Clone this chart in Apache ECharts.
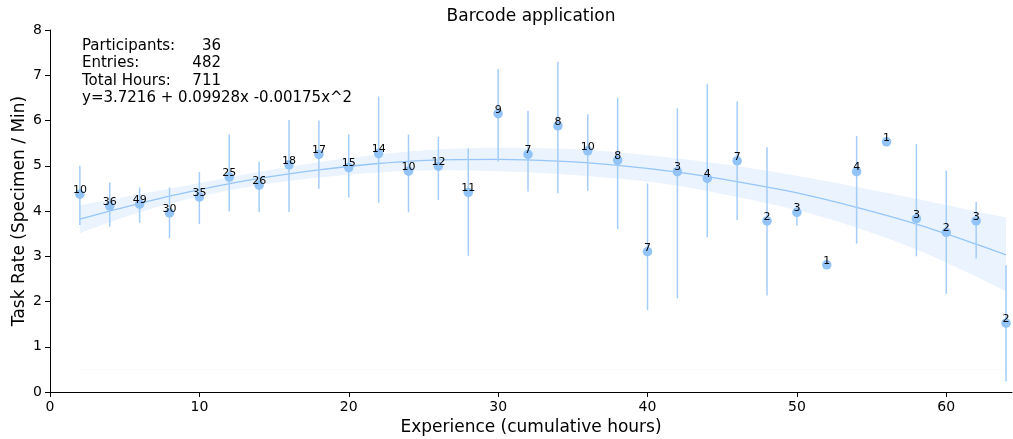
<!DOCTYPE html>
<html><head><meta charset="utf-8">
<script src="https://cdn.jsdelivr.net/npm/echarts@6/dist/echarts.min.js"></script>
<style>html,body{margin:0;padding:0;background:#fff}#c{width:1013px;height:439px}</style>
</head><body><div id="c"></div>
<script>
// ---- data ----
const hours = [2,4,6,8,10,12,14,16,18,20,22,24,26,28,30,32,34,36,38,40,42,44,46,48,50,52,54,56,58,60,62,64];
const meanRate = [4.37,4.11,4.15,3.96,4.31,4.75,4.57,5.02,5.25,4.96,5.27,4.88,4.99,4.41,6.15,5.25,5.88,5.33,5.12,3.10,4.87,4.72,5.11,3.78,3.97,2.81,4.87,5.53,3.83,3.53,3.78,1.52];
const counts = [10,36,49,30,35,25,26,18,17,15,14,10,12,11,9,7,8,10,8,7,3,4,7,2,3,1,4,1,3,2,3,2];
const errLow = [3.69,3.65,3.74,3.40,3.71,3.99,3.97,3.98,4.49,4.30,4.18,3.97,4.24,3.01,5.09,4.43,4.39,4.45,3.60,1.81,2.07,3.42,3.80,2.13,3.68,null,3.28,null,3.00,2.17,2.95,0.23];
const errHigh = [5.00,4.63,4.52,4.52,4.86,5.69,5.09,6.01,6.00,5.69,6.53,5.69,5.64,5.38,7.14,6.21,7.30,6.14,6.50,4.61,6.27,6.81,6.42,5.41,4.13,null,5.66,null,5.48,4.89,4.20,2.80];
const fitX = [2,6,10,14,18,22,26,30,34,38,42,46,50,54,58,62,64];
const fitY = [3.82,4.17,4.47,4.72,4.91,5.05,5.13,5.14,5.10,5.01,4.86,4.65,4.40,4.08,3.71,3.27,3.03];
const fitLo = [3.51,3.97,4.32,4.57,4.74,4.85,4.90,4.88,4.82,4.72,4.56,4.31,4.02,3.63,3.15,2.55,2.22];
const fitHi = [4.13,4.37,4.62,4.87,5.08,5.25,5.36,5.40,5.38,5.30,5.16,4.99,4.78,4.53,4.27,3.99,3.86];
const xTicks = [0,10,20,30,40,50,60];
const yTicks = [0,1,2,3,4,5,6,7,8];
const titleText = 'Barcode application';
const xName = 'Experience (cumulative hours)';
const yName = 'Task Rate (Specimen / Min)';
const statLabels = ['Participants:', 'Entries:', 'Total Hours:'];
const statValues = ['36', '482', '711'];
const equationText = 'y=3.7216 + 0.09928x -0.00175x^2';

// ---- build ----
const FONT = '"DejaVu Sans", sans-serif';
const chart = echarts.init(document.getElementById('c'), null, {renderer: 'canvas'});
const bandUpper = fitX.map((x, i) => [x, fitHi[i]]);
const bandLower = fitX.map((x, i) => [x, fitLo[i]]);
const fitLine = fitX.map((x, i) => [x, fitY[i]]);
const bars = [];
hours.forEach((x, i) => { if (errLow[i] != null) bars.push([x, errLow[i], errHigh[i]]); });
const pts = hours.map((x, i) => [x, meanRate[i], counts[i]]);

function txt(t, x, y, size, align, rot) {
  return {type: 'text', x: x, y: y, z: 100, rotation: rot || 0,
    style: {text: t, fill: '#000', font: size + 'px ' + FONT, align: align, verticalAlign: 'middle', textAlign: align, textVerticalAlign: 'middle'}};
}
const graphic = [txt(titleText, 531, 17, 17, 'center'), txt(yName, 20, 211, 17, 'center', Math.PI / 2)];
const lineY = [46, 63.5, 81];
statLabels.forEach((t, i) => {
  graphic.push(txt(t, 82, lineY[i], 15, 'left'));
  graphic.push(txt(statValues[i], 221, lineY[i], 15, 'right'));
});
graphic.push(txt(equationText, 82, 98.5, 15, 'left'));

const option = {
  animation: false,
  grid: {left: 50, right: 1, top: 30, bottom: 47, containLabel: false, outerBoundsMode: 'none'},
  xAxis: {
    type: 'value', min: 0, max: 64.4, interval: 10,
    axisLine: {show: true, lineStyle: {color: '#000', width: 1}},
    axisTick: {show: true, customValues: xTicks, length: 5, lineStyle: {color: '#000', width: 1}},
    axisLabel: {customValues: xTicks, color: '#000', fontSize: 14, fontFamily: FONT, margin: 8},
    splitLine: {show: false},
    name: xName, nameLocation: 'middle', nameGap: 26,
    nameTextStyle: {color: '#000', fontSize: 17, fontFamily: FONT}
  },
  yAxis: {
    type: 'value', min: 0, max: 8, interval: 1,
    axisLine: {show: true, lineStyle: {color: '#000', width: 1}},
    axisTick: {show: true, customValues: yTicks, length: 5, lineStyle: {color: '#000', width: 1}},
    axisLabel: {customValues: yTicks, color: '#000', fontSize: 14, fontFamily: FONT, margin: 8},
    splitLine: {show: false}
  },
  series: [
    {type: 'line', data: bandUpper, symbol: 'none', smooth: 0.35, lineStyle: {width: 0, opacity: 0},
      areaStyle: {color: '#eaf3fe', opacity: 1, origin: 0.5}, silent: true, z: 1},
    {type: 'line', data: bandLower, symbol: 'none', smooth: 0.35, lineStyle: {width: 0, opacity: 0},
      areaStyle: {color: '#ffffff', opacity: 1, origin: 0.5}, silent: true, z: 1},
    {type: 'line', data: fitLine, symbol: 'none', smooth: 0.35, lineStyle: {color: '#96c6f7', width: 1.3}, silent: true, z: 2},
    {type: 'custom', data: bars, encode: {x: 0, y: [1, 2]}, z: 3,
      renderItem: (params, api) => {
        const x = api.value(0);
        const p1 = api.coord([x, api.value(1)]);
        const p2 = api.coord([x, api.value(2)]);
        return {type: 'line', shape: {x1: p1[0], y1: p1[1], x2: p2[0], y2: p2[1]}, style: {stroke: '#a3cdfa', lineWidth: 1.5}};
      }},
    {type: 'scatter', data: pts, symbolSize: 9.5, z: 4,
      itemStyle: {color: '#92c4f8', opacity: 1},
      label: {show: true, position: 'inside', offset: [0, -4], formatter: p => String(p.value[2]), color: '#000', fontSize: 11, fontFamily: FONT}}
  ],
  graphic: graphic
};
chart.setOption(option);
</script></body></html>
